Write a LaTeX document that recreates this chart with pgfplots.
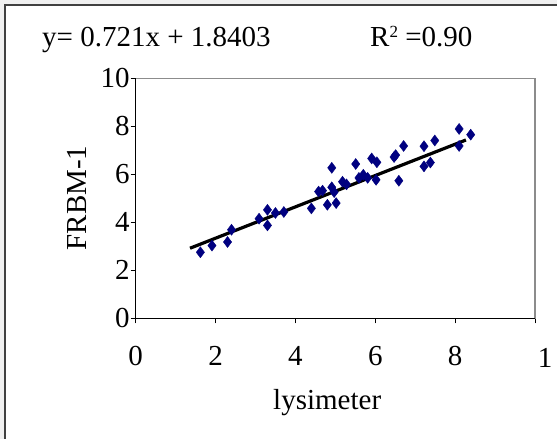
\documentclass[border=0pt]{standalone}
\usepackage{fontspec}
\setmainfont{Liberation Serif}
\usepackage{pgfplots}
\pgfplotsset{compat=1.18}
\definecolor{navyblue}{HTML}{000080}
\definecolor{bggray}{HTML}{F0F0F0}
\definecolor{framegray}{HTML}{404040}
\definecolor{plotgray}{HTML}{8C8C8C}
\begin{document}
\begin{tikzpicture}[x=1pt,y=1pt,font=\fontsize{29}{34}\selectfont]
\useasboundingbox (0,0) rectangle (557,-439);
\clip (0,0) rectangle (557,-439);
\fill[bggray] (0,0) rectangle (557,-439);
\filldraw[fill=white, draw=framegray, line width=1.5pt] (5,-5) rectangle (620,-500);
\node[anchor=base west, inner sep=0pt] at (42,-46) {y= 0.721x + 1.8403};
\node[anchor=base west, inner sep=0pt] at (370,-46) {R\raisebox{9pt}{\fontsize{17}{17}\selectfont 2} =0.90};
\node[anchor=base, inner sep=0pt] at (545,-367) {1};
\begin{axis}[
  at={(135.7pt,-318.3pt)}, anchor=south west,
  scale only axis, width=399.3pt, height=240pt,
  xmin=0, xmax=10, ymin=0, ymax=10,
  xtick={0,2,4,6,8,10}, ytick={0,2,4,6,8,10},
  xticklabels={0,2,4,6,8,{}}, yticklabels={0,2,4,6,8,10},
  tick align=outside, major tick length=5pt, tick pos=left,
  tick style={black, line width=1pt},
  axis line style={draw=plotgray, line width=1.5pt},
  xticklabel style={anchor=base, inner sep=0pt, yshift=-42pt},
  yticklabel style={anchor=east, inner sep=1pt},
  xlabel={lysimeter}, ylabel={FRBM-1},
  xlabel style={at={(rel axis cs:0.3439,-0.382)}, anchor=base west, inner sep=0pt},
  ylabel style={at={(rel axis cs:-0.147,0.501)}, anchor=center, inner sep=0pt},
  clip=false,
]
\addplot[only marks, mark=diamond*, mark size=5.5pt, draw=navyblue, fill=navyblue] coordinates {
(1.62,2.75) (1.91,3.03) (2.30,3.18) (2.40,3.69) (3.09,4.15)
(3.30,4.52) (3.30,3.87) (3.50,4.39) (3.71,4.43) (4.40,4.58)
(4.58,5.28) (4.68,5.32) (4.91,6.27) (4.91,5.46) (4.97,5.26)
(4.80,4.73) (5.02,4.80) (5.18,5.69) (5.28,5.58) (5.51,6.43)
(5.59,5.85) (5.70,5.98) (5.81,5.85) (5.91,6.66) (6.04,6.50)
(6.02,5.77) (6.47,6.72) (6.51,6.80) (6.59,5.73) (6.71,7.18)
(7.22,7.17) (7.22,6.33) (7.38,6.49) (7.49,7.41) (8.10,7.89)
(8.10,7.18) (8.39,7.65)
};
\addplot[black, line width=3.2pt] coordinates {(1.36,2.92) (8.27,7.43)};
\draw[black, line width=1.5pt] (rel axis cs:0,1) -- (rel axis cs:0,0) -- (rel axis cs:1,0);
\end{axis}
\end{tikzpicture}
\end{document}
